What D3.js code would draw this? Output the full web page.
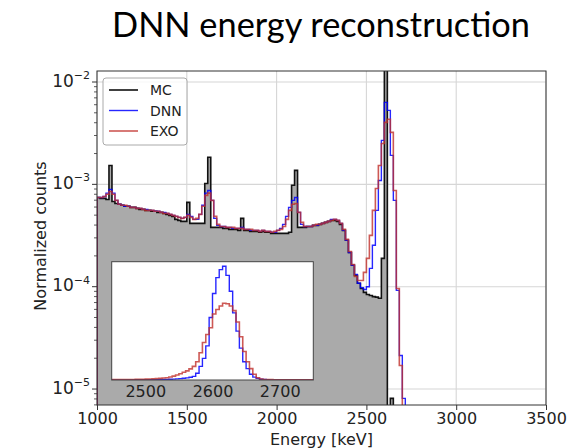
<!DOCTYPE html>
<html><head><meta charset="utf-8">
<script src="https://cdn.jsdelivr.net/npm/d3@7"></script>
<style>body{margin:0;background:#fff;} svg{display:block;}</style>
</head><body><svg id="c" width="580" height="448"></svg>
<script>
// ---------------- data ----------------
const binStart = 1000;
const binWidth = 2500 / 150; // keV
const mcCounts = [
7.45e-4,7.3e-4,7.3e-4,7.1e-4,1.53e-3,6.8e-4,6.5e-4,6.38e-4,6.24e-4,6.1e-4,
6.1e-4,5.96e-4,5.96e-4,5.82e-4,5.7e-4,5.7e-4,5.57e-4,5.57e-4,5.45e-4,5.45e-4,
5.32e-4,5.32e-4,5.2e-4,5.09e-4,4.98e-4,4.87e-4,4.55e-4,4.45e-4,4.35e-4,4.35e-4,
6.67e-4,4.16e-4,4.16e-4,4.16e-4,4.16e-4,4.16e-4,1.02e-3,1.84e-3,3.8e-4,3.8e-4,
3.8e-4,3.8e-4,3.71e-4,3.71e-4,3.63e-4,3.63e-4,3.63e-4,3.55e-4,4.65e-4,3.55e-4,
3.55e-4,3.47e-4,3.47e-4,3.47e-4,3.4e-4,3.47e-4,3.4e-4,3.4e-4,3.32e-4,3.32e-4,
3.32e-4,3.32e-4,3.32e-4,3.32e-4,3.4e-4,9.8e-4,1.37e-3,3.8e-4,3.8e-4,3.8e-4,
3.88e-4,3.88e-4,3.97e-4,3.97e-4,4.06e-4,4.16e-4,4.25e-4,4.35e-4,4.45e-4,4.45e-4,
4.35e-4,4.06e-4,3.55e-4,2.84e-4,2.16e-4,1.62e-4,1.29e-4,1.08e-4,9.6e-5,8.8e-5,
8.4e-5,8.2e-5,8.0e-5,7.9e-5,7.7e-5,1.89e-4,2.5e-2,0,8.1e-6,0];
const dnnCounts = [
7.45e-4,7.45e-4,7.6e-4,8.2e-4,8.94e-4,8.2e-4,6.98e-4,6.38e-4,6.24e-4,6.1e-4,
6.1e-4,5.96e-4,5.96e-4,5.82e-4,5.82e-4,5.7e-4,5.7e-4,5.57e-4,5.57e-4,5.45e-4,
5.45e-4,5.32e-4,5.32e-4,5.2e-4,5.09e-4,4.98e-4,4.87e-4,4.76e-4,4.65e-4,4.76e-4,
5.09e-4,4.87e-4,4.55e-4,4.55e-4,5.09e-4,6.24e-4,8.2e-4,8.7e-4,6.98e-4,4.65e-4,
3.97e-4,3.88e-4,3.88e-4,3.8e-4,3.8e-4,3.71e-4,3.71e-4,3.71e-4,3.8e-4,3.63e-4,
3.63e-4,3.55e-4,3.55e-4,3.55e-4,3.47e-4,3.55e-4,3.47e-4,3.47e-4,3.4e-4,3.4e-4,
3.55e-4,3.71e-4,4.06e-4,4.87e-4,5.96e-4,6.98e-4,7.45e-4,5.32e-4,4.06e-4,3.88e-4,
3.88e-4,3.88e-4,3.97e-4,3.97e-4,4.06e-4,4.16e-4,4.25e-4,4.35e-4,4.55e-4,4.55e-4,
4.45e-4,4.16e-4,3.55e-4,2.84e-4,2.16e-4,1.62e-4,1.32e-4,1.08e-4,9.8e-5,9.4e-5,
1.0e-4,1.51e-4,2.54e-4,5.57e-4,1.09e-3,2.69e-3,6.33e-3,5.28e-3,1.92e-3,6.98e-4,
9.2e-5,2.13e-5,8.1e-6];
const exoCounts = [
7.45e-4,7.45e-4,7.6e-4,8.0e-4,8.5e-4,8.0e-4,6.98e-4,6.38e-4,6.24e-4,6.24e-4,
6.1e-4,5.96e-4,5.96e-4,5.82e-4,5.82e-4,5.7e-4,5.57e-4,5.57e-4,5.57e-4,5.45e-4,
5.45e-4,5.32e-4,5.2e-4,5.2e-4,5.09e-4,4.98e-4,4.87e-4,4.76e-4,4.65e-4,4.76e-4,
4.98e-4,4.76e-4,4.55e-4,4.65e-4,5.09e-4,6.1e-4,7.8e-4,8.2e-4,6.98e-4,4.87e-4,
4.06e-4,3.88e-4,3.88e-4,3.8e-4,3.8e-4,3.8e-4,3.71e-4,3.71e-4,3.71e-4,3.63e-4,
3.63e-4,3.63e-4,3.55e-4,3.55e-4,3.47e-4,3.55e-4,3.47e-4,3.47e-4,3.4e-4,3.47e-4,
3.55e-4,3.63e-4,3.88e-4,4.55e-4,5.57e-4,6.38e-4,6.5e-4,5.32e-4,4.25e-4,3.88e-4,
3.88e-4,3.88e-4,3.97e-4,4.06e-4,4.06e-4,4.16e-4,4.25e-4,4.35e-4,4.45e-4,4.55e-4,
4.45e-4,4.16e-4,3.63e-4,2.9e-4,2.21e-4,1.65e-4,1.26e-4,1.15e-4,1.15e-4,1.38e-4,
1.89e-4,3.17e-4,5.57e-4,9.1e-4,1.53e-3,2.51e-3,4.03e-3,4.32e-3,3.22e-3,8.7e-4,
9.6e-5,1.7e-5];

// inset (linear scale, arbitrary units, 5 keV bins)
const insetStart = 2450;
const insetBinWidth = 5;
const insetDnn = [
0.1,0.1,0.1,0.1,0.1,0.15,0.15,0.2,0.2,0.2,
0.25,0.3,0.3,0.35,0.4,0.45,
0.5,0.6,0.8,1.0,1.2,1.5,1.9,2.4,3.2,6,12,19,30,55,76,90,97,100,92,78,59,43,28,16,10,5,2.5,1.4,0.7,0.4,0.25,0.15,0.1,0.05,
0.05,0.03,0.03,0.02,0.02,0.02,0.01,0.01,0.01,0.01];
const insetExo = [
0.3,0.3,0.35,0.35,0.4,0.45,0.5,0.55,0.6,0.7,
0.8,0.9,1.0,1.2,1.4,1.7,
2.0,2.6,3.4,4.4,5.5,6.8,8.0,9.8,12,16,24,33,40,46,58,62,65,67.5,67,65,61,51,38,25,16,10,5,2,0.9,0.5,0.35,0.3,
0.25,0.2,
0.2,0.15,0.15,0.12,0.1,0.1,0.1,0.1,0.1,0.1];

const xTicks = [1000, 1500, 2000, 2500, 3000, 3500];
const yTickExps = [-5, -4, -3, -2];
const insetTicks = [2500, 2600, 2700];
const seriesNames = ["MC", "DNN", "EXO"];
const titleText = "DNN energy reconstruction";
const xLabel = "Energy [keV]";
const yLabel = "Normalized counts";

// ---------------- styles / layout ----------------
const style = {
  mc: {stroke: "#111", width: 1.6, opacity: 1},
  dnn: {stroke: "#0000ff", width: 1.4, opacity: 0.85},
  exo: {stroke: "#c0302a", width: 1.6, opacity: 0.8},
  fill: "#aaaaaa", grid: "#d6d6d6", axis: "#333", text: "#222"
};
const P = {l: 97, r: 546, t: 71, b: 405};
const IN = {l: 111.7, r: 313.3, t: 261.7, b: 380};

const svg = d3.select("#c");
const font = "'DejaVu Sans', sans-serif";

const x = d3.scaleLinear([1000, 3500], [P.l, P.r]);
const y = d3.scaleLog([Math.pow(10, -5.156), Math.pow(10, -1.8925)], [P.b, P.t]);
const floorV = 1e-7;

const defs = svg.append("defs");
defs.append("clipPath").attr("id", "plotClip").append("rect")
  .attr("x", P.l).attr("y", P.t).attr("width", P.r - P.l).attr("height", P.b - P.t);
defs.append("clipPath").attr("id", "insetClip").append("rect")
  .attr("x", IN.l).attr("y", IN.t).attr("width", IN.r - IN.l).attr("height", IN.b - IN.t);

// title
const title = svg.append("text").text(titleText)
  .attr("x", 321).attr("y", 37).attr("text-anchor", "middle")
  .attr("font-family", "Lato, 'Open Sans', sans-serif").attr("font-size", 32).attr("fill", "#000");
{
  const w = title.node().getComputedTextLength();
  title.attr("font-size", 32 * 418 / w);
}

// grid
const grid = svg.append("g");
xTicks.forEach(t => grid.append("line").attr("x1", x(t)).attr("x2", x(t)).attr("y1", P.t).attr("y2", P.b)
  .attr("stroke", style.grid).attr("stroke-width", 1.1));
yTickExps.forEach(e => grid.append("line").attr("x1", P.l).attr("x2", P.r)
  .attr("y1", y(Math.pow(10, e))).attr("y2", y(Math.pow(10, e)))
  .attr("stroke", style.grid).attr("stroke-width", 1.1));

// step geometry
function stepPoints(vals, start, width, xs, ys, floor) {
  const pts = [[xs(start), ys(floor)]];
  vals.forEach((v, i) => {
    const vv = Math.max(v, floor);
    pts.push([xs(start + i * width), ys(vv)]);
    pts.push([xs(start + (i + 1) * width), ys(vv)]);
  });
  pts.push([xs(start + vals.length * width), ys(floor)]);
  return pts;
}

const plot = svg.append("g").attr("clip-path", "url(#plotClip)");
const mcPts = stepPoints(mcCounts, binStart, binWidth, x, y, floorV);
plot.append("path").attr("d", d3.area().x(d => d[0]).y0(y(floorV)).y1(d => d[1])(mcPts))
  .attr("fill", style.fill);
const line = d3.line();
[["mc", mcCounts], ["dnn", dnnCounts], ["exo", exoCounts]].forEach(([k, vals]) => {
  plot.append("path").attr("d", line(stepPoints(vals, binStart, binWidth, x, y, floorV)))
    .attr("fill", "none").attr("stroke", style[k].stroke).attr("stroke-width", style[k].width)
    .attr("stroke-opacity", style[k].opacity).attr("stroke-linejoin", "miter");
});

// inset
const xi = d3.scaleLinear([2450, 2750], [IN.l, IN.r]);
const yi = d3.scaleLinear([0, 104], [IN.b, IN.t]);
svg.append("rect").attr("x", IN.l).attr("y", IN.t).attr("width", IN.r - IN.l).attr("height", IN.b - IN.t)
  .attr("fill", "#fff");
const ig = svg.append("g").attr("clip-path", "url(#insetClip)");
[["dnn", insetDnn], ["exo", insetExo]].forEach(([k, vals]) => {
  ig.append("path").attr("d", line(stepPoints(vals, insetStart, insetBinWidth, xi, yi, 0)))
    .attr("fill", "none").attr("stroke", style[k].stroke).attr("stroke-width", style[k].width)
    .attr("stroke-opacity", style[k].opacity);
});
svg.append("rect").attr("x", IN.l).attr("y", IN.t).attr("width", IN.r - IN.l).attr("height", IN.b - IN.t)
  .attr("fill", "none").attr("stroke", "#444").attr("stroke-width", 1);
const insetAxis = svg.append("g").attr("transform", `translate(0,${IN.b})`)
  .call(d3.axisBottom(xi).tickValues(insetTicks).tickSize(0).tickPadding(6).tickFormat(d3.format("d")));
insetAxis.select(".domain").remove();
insetAxis.selectAll("text").attr("font-family", font).attr("font-size", 16).attr("fill", style.text);

// main axes
svg.append("rect").attr("x", P.l).attr("y", P.t).attr("width", P.r - P.l).attr("height", P.b - P.t)
  .attr("fill", "none").attr("stroke", style.axis).attr("stroke-width", 1);
const xAxis = svg.append("g").attr("transform", `translate(0,${P.b})`)
  .call(d3.axisBottom(x).tickValues(xTicks).tickSize(5).tickPadding(3).tickFormat(d3.format("d")));
xAxis.select(".domain").remove();
xAxis.selectAll("line").attr("stroke", style.axis);
xAxis.selectAll("text").attr("font-family", font).attr("font-size", 16).attr("fill", style.text);

// y axis: major ticks with 10^n labels, minor ticks
const minor = [];
for (let e = -6; e <= -2; e++) for (let k = 2; k <= 9; k++) {
  const v = k * Math.pow(10, e);
  if (v > y.domain()[0] && v < y.domain()[1]) minor.push(v);
}
const ya = svg.append("g");
minor.forEach(v => ya.append("line").attr("x1", P.l - 3).attr("x2", P.l)
  .attr("y1", y(v)).attr("y2", y(v)).attr("stroke", style.axis).attr("stroke-width", 0.8));
yTickExps.forEach(e => {
  const yy = y(Math.pow(10, e));
  ya.append("line").attr("x1", P.l - 5).attr("x2", P.l).attr("y1", yy).attr("y2", yy)
    .attr("stroke", style.axis).attr("stroke-width", 1);
  const t = ya.append("text").attr("x", 90).attr("y", yy + 4.5).attr("text-anchor", "end")
    .attr("font-family", font).attr("fill", style.text);
  t.append("tspan").attr("font-size", 17).text("10");
  t.append("tspan").attr("font-size", 11).attr("dy", -7.5).text("\u2212" + Math.abs(e));
});

// axis labels
svg.append("text").text(xLabel).attr("x", (P.l + P.r) / 2).attr("y", 445).attr("text-anchor", "middle")
  .attr("font-family", font).attr("font-size", 16).attr("fill", style.text);
svg.append("text").text(yLabel).attr("transform", `translate(46,${(P.t + P.b) / 2 - 2}) rotate(-90)`)
  .attr("text-anchor", "middle").attr("font-family", font).attr("font-size", 16).attr("fill", style.text);

// legend
const lg = svg.append("g");
lg.append("rect").attr("x", 103).attr("y", 78).attr("width", 84).attr("height", 67).attr("rx", 3)
  .attr("fill", "#fff").attr("fill-opacity", 0.8).attr("stroke", "#aaa").attr("stroke-width", 1);
["mc", "dnn", "exo"].forEach((k, i) => {
  const yy = 90 + i * 20.5;
  lg.append("line").attr("x1", 109).attr("x2", 138).attr("y1", yy).attr("y2", yy)
    .attr("stroke", style[k].stroke).attr("stroke-width", style[k].width).attr("stroke-opacity", style[k].opacity);
  lg.append("text").text(seriesNames[i]).attr("x", 150).attr("y", yy + 5)
    .attr("font-family", font).attr("font-size", 14).attr("fill", style.text);
});
</script></body></html>
